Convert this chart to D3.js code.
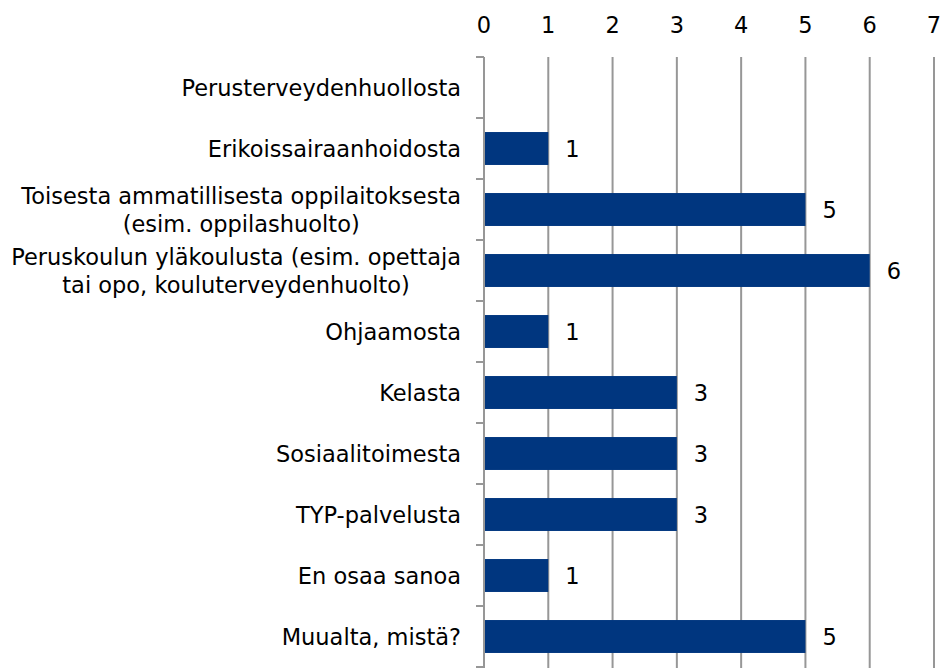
<!DOCTYPE html>
<html><head><meta charset="utf-8">
<script src="https://cdn.jsdelivr.net/npm/d3@7"></script>
<style>body{margin:0;background:#fff}svg{display:block}</style>
</head><body>
<svg id="c" width="941" height="668"></svg>
<script>
const categories = [
  ["Perusterveydenhuollosta"],
  ["Erikoissairaanhoidosta"],
  ["Toisesta ammatillisesta oppilaitoksesta", "(esim. oppilashuolto)"],
  ["Peruskoulun yläkoulusta (esim. opettaja", "tai opo, kouluterveydenhuolto)"],
  ["Ohjaamosta"],
  ["Kelasta"],
  ["Sosiaalitoimesta"],
  ["TYP-palvelusta"],
  ["En osaa sanoa"],
  ["Muualta, mistä?"]
];
const values = [0, 1, 5, 6, 1, 3, 3, 3, 1, 5];
const xTicks = [0, 1, 2, 3, 4, 5, 6, 7];

const svg = d3.select("#c");
const font = "'DejaVu Sans', sans-serif";
const fs = 22.5;
const m = {left: 484, right: 934, top: 57, bottom: 667};
const x = d3.scaleLinear().domain([0, 7]).range([m.left, m.right]);
const y = d3.scaleBand().domain(d3.range(categories.length)).range([m.top, m.bottom]).paddingInner(0.46).paddingOuter(0.23);
const step = y.step();

// gridlines
svg.append("g").selectAll("line").data(xTicks.slice(1)).join("line")
  .attr("x1", d => x(d)).attr("x2", d => x(d))
  .attr("y1", m.top).attr("y2", 668)
  .attr("stroke", "#979797").attr("stroke-width", 2);

// top tick labels
svg.append("g").selectAll("text").data(xTicks).join("text")
  .attr("x", d => x(d)).attr("y", 33)
  .attr("text-anchor", "middle")
  .attr("font-family", font).attr("font-size", fs).attr("fill", "#000")
  .text(d => d);

// left axis line & category ticks
svg.append("line").attr("x1", m.left).attr("x2", m.left).attr("y1", m.top).attr("y2", 668)
  .attr("stroke", "#979797").attr("stroke-width", 2);
const bounds = d3.range(categories.length + 1).map(i => m.top + i * step);
svg.append("g").selectAll("line").data(bounds).join("line")
  .attr("x1", m.left - 8).attr("x2", m.left)
  .attr("y1", d => d).attr("y2", d => d)
  .attr("stroke", "#979797").attr("stroke-width", 2);

// bars
svg.append("g").selectAll("rect").data(values).join("rect")
  .attr("x", x(0) + 1).attr("y", (d, i) => y(i))
  .attr("width", d => Math.max(0, x(d) - x(0) - 1)).attr("height", y.bandwidth())
  .attr("fill", "#00367F");

// value labels
svg.append("g").selectAll("text").data(values.map((v, i) => ({v, i})).filter(d => d.v > 0)).join("text")
  .attr("x", d => x(d.v) + 17).attr("y", d => y(d.i) + y.bandwidth() / 2 + 8)
  .attr("font-family", font).attr("font-size", fs).attr("fill", "#000")
  .text(d => d.v);

// category labels (one text per line)
const lh = 28;
const catG = svg.append("g");
categories.forEach((lines, i) => {
  const cy = y(i) + y.bandwidth() / 2;
  const ts = lines.map((s, k) => catG.append("text")
    .attr("text-anchor", "middle")
    .attr("font-family", font).attr("font-size", fs).attr("fill", "#000")
    .attr("y", cy + 8 + (k - (lines.length - 1) / 2) * lh)
    .text(s));
  const maxW = d3.max(ts, t => t.node().getComputedTextLength());
  ts.forEach(t => t.attr("x", 461 - maxW / 2));
});
</script>
</body></html>
